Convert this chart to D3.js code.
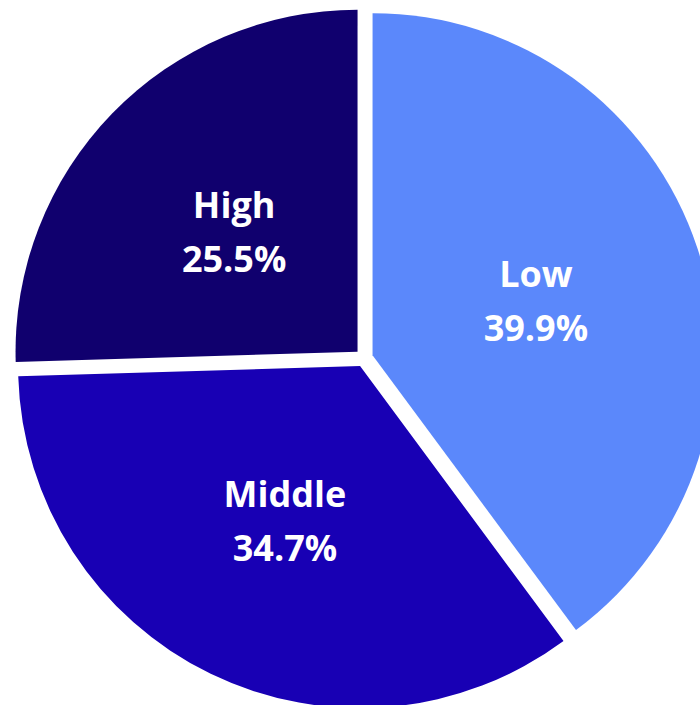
<!DOCTYPE html>
<html>
<head>
<meta charset="utf-8">
<script src="https://cdn.jsdelivr.net/npm/d3@7"></script>
<style>
  html, body { margin: 0; padding: 0; background: #ffffff; }
  svg { display: block; }
</style>
</head>
<body>
<div id="chart"></div>
<script>
// slice data, in drawing order (clockwise from 12 o'clock)
var categories = ["Low", "Middle", "High"];
var shares = [39.9, 34.7, 25.5];
var colors = ["#5b88fb", "#1800b4", "#10006e"];

var width = 700,
    height = 705,
    cx = 364,
    cy = 358,
    radius = 342,
    explode = 9,
    labelRadius = 172;

var data = categories.map(function (c, i) {
    return { name: c, value: shares[i], color: colors[i] };
});

var svg = d3.select("#chart")
    .append("svg")
    .attr("width", width)
    .attr("height", height);

var g = svg.append("g")
    .attr("transform", "translate(" + cx + "," + cy + ")");

var pie = d3.pie()
    .sort(null)
    .value(function (d) { return d.value; });

var arc = d3.arc()
    .innerRadius(0)
    .outerRadius(radius);

var labelArc = d3.arc()
    .innerRadius(labelRadius)
    .outerRadius(labelRadius);

// push each slice out along its mid angle
function offset(d, r) {
    var a = (d.startAngle + d.endAngle) / 2;
    return [Math.sin(a) * r, -Math.cos(a) * r];
}

var slices = g.selectAll(".slice")
    .data(pie(data))
    .enter()
    .append("g")
    .attr("class", "slice")
    .attr("transform", function (d) {
        var o = offset(d, explode);
        return "translate(" + o[0] + "," + o[1] + ")";
    });

slices.append("path")
    .attr("d", arc)
    .attr("fill", function (d) { return d.data.color; });

var labels = slices.append("text")
    .attr("transform", function (d) {
        var c = labelArc.centroid(d);
        return "translate(" + c[0] + "," + c[1] + ")";
    })
    .attr("text-anchor", "middle")
    .style("font-family", "'Open Sans', 'Noto Sans', sans-serif")
    .style("font-weight", "bold")
    .style("font-size", "36px")
    .style("fill", "#ffffff");

labels.append("tspan")
    .attr("x", 0)
    .attr("y", -14)
    .text(function (d) { return d.data.name; });

labels.append("tspan")
    .attr("x", 0)
    .attr("y", 40)
    .text(function (d) { return d.data.value.toFixed(1) + "%"; });
</script>
</body>
</html>
